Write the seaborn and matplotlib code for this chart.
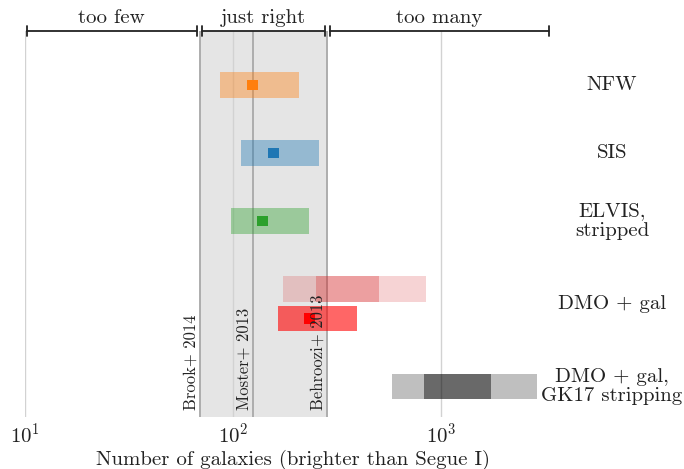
import numpy as np
import pandas as pd
import matplotlib
matplotlib.use("Agg")
import matplotlib.pyplot as plt
import seaborn as sns

# ---------------- data ----------------
row_labels = ["NFW", "SIS", "ELVIS,\nstripped", "DMO + gal", "DMO + gal,\nGK17 stripping"]
label_rows = [0.0, 1.0, 2.0, 3.22, 4.43]

bar_rows = [0.0, 1.0, 2.0, 3.0, 3.43, 4.43]
nfw_range = [87, 208]
sis_range = [109, 259]
elvis_range = [98, 232]
dmo_red_range = [164, 394]
dmo_outer = [174, 847]
dmo_inner = [250, 503]
gk17_outer = [581, 2894]
gk17_inner = [828, 1738]

median_models = ["NFW", "SIS", "ELVIS", "DMO + gal"]
median_values = [124, 157, 139, 234]
median_rows = [0.0, 1.0, 2.0, 3.43]
median_colors = ["#ff7f0e", "#1f77b4", "#2ca02c", "#ff0000"]

obs_names = ["Brook+ 2014", "Moster+ 2013", "Behroozi+ 2013"]
obs_values = [69.3, 125, 282]

bracket_names = ["too few", "just right", "too many"]
bracket_lo = [10.2, 71, 292]
bracket_hi = [67, 276, 3300]

# ---------------- style ----------------
sns.set_theme(style="white")
plt.rcParams["font.family"] = ["serif"]
plt.rcParams["font.serif"] = ["cmr10", "DejaVu Serif"]
plt.rcParams["mathtext.fontset"] = "cm"
plt.rcParams["axes.formatter.use_mathtext"] = True

FS = 15

fig = plt.figure(figsize=(6.84, 4.69), dpi=100)
ax = fig.add_axes([25 / 684, 1 - 417 / 469, 535 / 684, (417 - 31) / 469])
ax.set_xscale("log")
ax.set_xlim(10, 3733)
ax.set_ylim(4.882, -0.794)

ax.axvspan(obs_values[0], obs_values[2], color="#e5e5e5", zorder=0, lw=0)
for v in [10, 100, 1000]:
    ax.axvline(v, color="#d2d2d2", lw=1.0, zorder=0.5)
for v in obs_values:
    ax.axvline(v, color="#adadad", lw=1.4, zorder=0.6)

bh = 0.37

def hbar(row, rng, color, alpha):
    ax.barh(row, rng[1] - rng[0], left=rng[0], height=bh, color=color,
            alpha=alpha, lw=0, zorder=2)

hbar(bar_rows[0], nfw_range, "#ff7f0e", 0.4)
hbar(bar_rows[1], sis_range, "#1f77b4", 0.4)
hbar(bar_rows[2], elvis_range, "#2ca02c", 0.4)
hbar(bar_rows[3], dmo_outer, "#d62728", 0.2)
hbar(bar_rows[3], dmo_inner, "#d62728", 0.3)
hbar(bar_rows[4], dmo_red_range, "#ff0000", 0.6)
hbar(bar_rows[5], gk17_outer, "#000000", 0.25)
hbar(bar_rows[5], gk17_inner, "#000000", 0.45)

df = pd.DataFrame({"model": median_models, "N": median_values, "row": median_rows})
sns.scatterplot(data=df, x="N", y="row", hue="model", palette=median_colors,
                marker="s", s=62, linewidth=0, legend=False, ax=ax, zorder=3)

for name, v in zip(obs_names, obs_values):
    ax.text(v / 1.012, 4.78, name, rotation=90, ha="right", va="bottom",
            fontsize=12, color="#222222", zorder=4)

for name, lo, hi in zip(bracket_names, bracket_lo, bracket_hi):
    ax.annotate("", xy=(lo, 1.0), xytext=(hi, 1.0),
                xycoords=("data", "axes fraction"), textcoords=("data", "axes fraction"),
                arrowprops=dict(arrowstyle="|-|, widthA=0.3, widthB=0.3", lw=1.3,
                                color="#222222", shrinkA=0, shrinkB=0),
                annotation_clip=False)
    ax.text(np.sqrt(lo * hi), 1.01, name, transform=ax.get_xaxis_transform(),
            ha="center", va="bottom", fontsize=FS, color="#222222", clip_on=False)

for name, r in zip(row_labels, label_rows):
    ax.text(1.097, r, name, transform=ax.get_yaxis_transform(), ha="center",
            va="center", fontsize=FS, color="#222222", multialignment="center",
            linespacing=1.1, clip_on=False)

for s in ax.spines.values():
    s.set_visible(False)
ax.set_yticks([])
ax.set_xticks([10, 100, 1000])
ax.xaxis.set_minor_locator(matplotlib.ticker.NullLocator())
ax.tick_params(axis="x", length=0, pad=4, labelsize=FS, colors="#222222")
ax.set_xlabel("Number of galaxies (brighter than Segue I)", fontsize=FS,
              color="#222222", labelpad=2)
ax.set_ylabel("")
ax.grid(False)

fig.savefig("out.png", dpi=100)
